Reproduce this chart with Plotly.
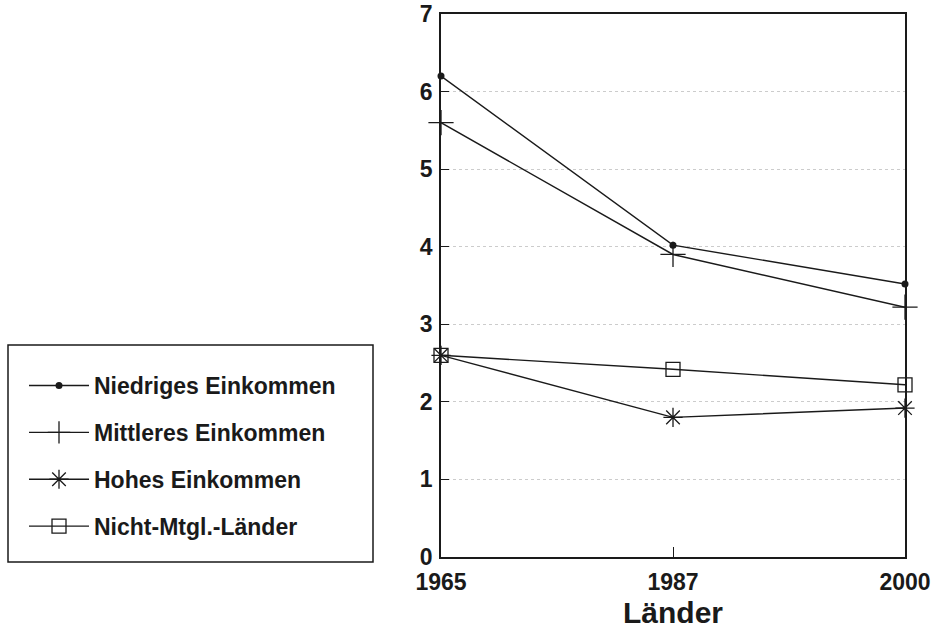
import plotly.graph_objects as go

years = ["1965", "1987", "2000"]
niedriges = [6.2, 4.02, 3.52]
mittleres = [5.6, 3.9, 3.22]
hohes = [2.6, 1.8, 1.92]
nicht_mtgl = [2.6, 2.42, 2.22]

series = [
    ("Niedriges Einkommen", niedriges, dict(symbol="circle", size=7, color="#1a1a1a")),
    ("Mittleres Einkommen", mittleres, dict(symbol="cross-thin", size=18, color="#1a1a1a",
                                             line=dict(width=1.3, color="#1a1a1a"))),
    ("Hohes Einkommen", hohes, dict(symbol="asterisk", size=16, color="#1a1a1a",
                                     line=dict(width=1.3, color="#1a1a1a"))),
    ("Nicht-Mtgl.-Länder", nicht_mtgl, dict(symbol="square-open", size=14, color="#1a1a1a",
                                           line=dict(width=1.3, color="#1a1a1a"))),
]

FONT = "Liberation Sans, Arial, sans-serif"

fig = go.Figure()
xs = list(range(len(years)))
for i, (name, vals, mk) in enumerate(series):
    fig.add_trace(go.Scatter(
        x=xs, y=vals, name=name, mode="lines+markers",
        line=dict(color="#1a1a1a", width=1.4),
        marker=mk, cliponaxis=False, legendgroup=f"g{i}",
    ))

W, H = 942, 635
L, R, T, B = 441, 37, 14, 78
pw, ph = W - L - R, H - T - B

def px(xp):
    return (xp - L) / pw

def py(yp):
    return (H - B - yp) / ph

fig.update_layout(
    width=W, height=H,
    margin=dict(l=L, r=R, t=T, b=B, autoexpand=False),
    paper_bgcolor="white", plot_bgcolor="white",
    font=dict(family=FONT, color="#1a1a1a", size=22, weight="bold"),
    showlegend=True,
    legend=dict(
        x=px(24), y=py(364), xanchor="left", yanchor="top",
        bgcolor="rgba(0,0,0,0)", borderwidth=0,
        font=dict(family=FONT, size=23, color="#1a1a1a", weight="bold"),
        tracegroupgap=14, itemwidth=60,
    ),
    shapes=[dict(type="rect", xref="paper", yref="paper",
                 x0=px(8), x1=px(373), y0=py(562), y1=py(345),
                 line=dict(color="#1a1a1a", width=1.5))],
)

fig.update_xaxes(
    range=[0, 2], tickvals=xs, ticktext=years, automargin=False,
    showline=True, mirror=True, linecolor="#1a1a1a", linewidth=1.5,
    ticks="inside", ticklen=10, tickcolor="#1a1a1a", tickwidth=1.3,
    showgrid=False, zeroline=False, ticklabelstandoff=4, ticklabeloverflow="allow",
    tickfont=dict(family=FONT, size=23, weight="bold"),
    title=dict(text="Länder", font=dict(family=FONT, size=30, weight="bold"), standoff=8),
)
fig.update_yaxes(
    range=[0, 7], dtick=1, tick0=0, automargin=False,
    showline=True, mirror=True, linecolor="#1a1a1a", linewidth=1.5,
    ticks="inside", ticklen=8, tickcolor="#1a1a1a", tickwidth=1.3,
    showgrid=True, gridcolor="#cccccc", griddash="dot", gridwidth=1,
    zeroline=False, ticklabelstandoff=2, ticklabeloverflow="allow",
    tickfont=dict(family=FONT, size=23, weight="bold"),
)

fig.write_html("out.html", config={"displayModeBar": False},
               post_script="document.body.style.margin='0';")
